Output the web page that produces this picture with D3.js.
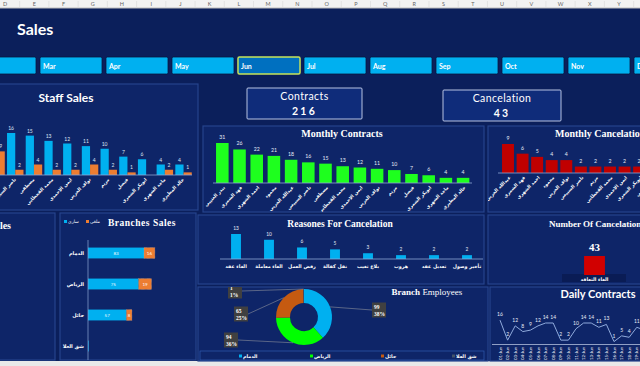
<!DOCTYPE html>
<html>
<head>
<meta charset="utf-8">
<script src="https://cdn.jsdelivr.net/npm/d3@7"></script>
<style>
html, body { margin: 0; padding: 0; background: #0b1f5b; overflow: hidden; }
svg { display: block; }
</style>
</head>
<body>
<svg id="dash" width="640" height="366"></svg>
<script>
// ---- data ----
const sheetColumns = ["D", "E", "F", "G", "H", "I", "J", "K", "L", "M", "N", "O", "P", "Q", "R", "S", "T", "U", "V", "W", "X", "Y"];
const months = ["Jan", "Feb", "Mar", "Apr", "May", "Jun", "Jul", "Aug", "Sep", "Oct", "Nov", "Dec"];
const selectedMonth = "Jun";

const staffNames = ["بندر العتيبي", "فهد الشمري", "احمد الشهري", "محمود", "عبدالله الحربي", "ناصر السبيعي", "مصطفى",
  "محمد القحطاني", "ايمن الاحمدي", "نواف الحربي", "مريم", "فيصل", "ابوبكر الشمري", "ماجد الشهري", "خالد المطيري"];
const staffContracts = [31, 26, 22, 21, 18, 16, 15, 13, 12, 11, 10, 7, 6, 4, 4];
const staffCancels = [5, 4, 3, 2, 9, 2, 4, 2, 2, 4, 2, 1, 0, 2, 1];

const cancelNames = ["عبدالله الحربي", "فهد الشمري", "احمد الشهري", "محمود", "نواف الحربي", "ناصر السبيعي", "مريم",
  "محمد القحطاني", "ايمن الاحمدي", "ابوبكر الشمري", "بندر العتيبي", "فيصل", "ماجد الشهري", "خالد المطيري"];
const cancelValues = [9, 6, 5, 4, 4, 2, 2, 2, 2, 2, 2, 1, 1, 1];

const reasons = ["الغاء عقد", "الغاء معاملة", "رفض العمل", "نقل كفالة", "بلاغ تغيب", "هروب", "تعديل عقد", "تأخير وصول"];
const reasonValues = [13, 10, 6, 5, 3, 2, 2, 2];

const branches = ["الدمام", "الرياض", "حائل", "شق العلا"];
const branchActive = [83, 75, 57, 1];
const branchCancelled = [16, 19, 8, 0];
const branchEmployees = [99, 94, 65, 1];

const cancelTypes = ["الغاء التعاقد"];

const dailyDates = ["01-Jun", "02-Jun", "03-Jun", "04-Jun", "05-Jun", "06-Jun", "07-Jun", "08-Jun", "09-Jun", "10-Jun",
  "11-Jun", "12-Jun", "13-Jun", "14-Jun", "15-Jun", "16-Jun", "17-Jun", "18-Jun", "19-Jun", "20-Jun", "21-Jun", "22-Jun", "23-Jun"];
const dailyContracts = [16, 2, 12, 8, 9, 12, 14, 14, 2, 2, 10, 14, 14, 11, 13, 1, 5, 4, 11, 9, 14, 8, 11];

// ---- styles ----
const sans = "Lato, 'Open Sans', sans-serif";
const serif = "'Liberation Serif', 'DejaVu Serif', serif";
const arabic = "'DejaVu Sans', sans-serif";
const blue = "#00b0f0", orange = "#ed7d31", green = "#1eff1e", red = "#c00000";

const svg = d3.select("#dash");
const defs = svg.append("defs");

function panel(id, x, y, w, h) {
  defs.append("clipPath").attr("id", id).append("rect").attr("x", x).attr("y", y).attr("width", w).attr("height", h);
  svg.append("rect").attr("x", x).attr("y", y).attr("width", w).attr("height", h)
    .attr("fill", "#0e2568").attr("stroke", "#25438c").attr("stroke-width", 1.2);
  return svg.append("g").attr("clip-path", `url(#${id})`);
}

function title(g, text, x, y, size, family, anchor = "middle") {
  return g.append("text").attr("x", x).attr("y", y).attr("text-anchor", anchor)
    .attr("font-family", family).attr("font-weight", "bold").attr("font-size", size)
    .attr("fill", "white").text(text);
}

// ---- excel column header ----
svg.append("rect").attr("width", 640).attr("height", 8).attr("fill", "#f2f2f2");
svg.append("line").attr("x1", 0).attr("x2", 640).attr("y1", 8).attr("y2", 8).attr("stroke", "#bdbdbd");
const colX = d3.scalePoint().domain(sheetColumns).range([5, 619]);
svg.append("g").selectAll("text").data(sheetColumns).join("text")
  .attr("x", d => colX(d)).attr("y", 6).attr("text-anchor", "middle")
  .attr("font-family", sans).attr("font-size", 5.5).attr("fill", "#666").text(d => d);
svg.append("g").selectAll("line").data(sheetColumns).join("line")
  .attr("x1", d => colX(d) + colX.step() / 2).attr("x2", d => colX(d) + colX.step() / 2)
  .attr("y1", 1).attr("y2", 8).attr("stroke", "#d6d6d6").attr("stroke-width", 0.6);
svg.append("rect").attr("y", 361).attr("width", 640).attr("height", 5).attr("fill", "#e9e9e9");

// ---- title + month slicer ----
svg.append("text").attr("x", 17).attr("y", 35).attr("font-family", sans).attr("font-weight", "bold")
  .attr("font-size", 16).attr("fill", "white").text("Sales");

const monthX = d3.scaleBand().domain(months).range([-94, 698]).paddingInner(0.06).paddingOuter(0.03);
const slicer = svg.append("g").selectAll("g").data(months).join("g")
  .attr("transform", d => `translate(${monthX(d)},57)`);
slicer.append("rect").attr("width", monthX.bandwidth()).attr("height", 17).attr("rx", 1.5)
  .attr("fill", d => d === selectedMonth ? "#0070c0" : blue)
  .attr("stroke", d => d === selectedMonth ? "#c6e35a" : "#09173f")
  .attr("stroke-width", d => d === selectedMonth ? 1.5 : 0.8);
slicer.append("text").attr("x", 3).attr("y", 12).attr("font-family", sans).attr("font-weight", "bold")
  .attr("font-size", 7).attr("fill", "white").text(d => d);

// ---- KPI boxes ----
const totalContracts = d3.sum(staffContracts);
const totalCancels = d3.sum(cancelValues);
[["Contracts", totalContracts, 247, 88, 115], ["Cancelation", totalCancels, 443, 90, 118]].forEach(([label, value, x, y, w]) => {
  svg.append("rect").attr("x", x).attr("y", y).attr("width", w).attr("height", 31)
    .attr("fill", "#0f2c7a").attr("stroke", "#c9d4ee").attr("stroke-width", 0.9).attr("rx", 1);
  svg.append("text").attr("x", x + w / 2).attr("y", y + 12).attr("text-anchor", "middle")
    .attr("font-family", sans).attr("font-size", 10.5).attr("letter-spacing", 0.4).attr("fill", "white").text(label);
  svg.append("text").attr("x", x + w / 2).attr("y", y + 27).attr("text-anchor", "middle")
    .attr("font-family", sans).attr("font-weight", "bold").attr("font-size", 10.5).attr("letter-spacing", 2.2)
    .attr("fill", "white").text(value);
});

// ---- Staff Sales ----
{
  const g = panel("clipStaff", -5, 84, 203, 126);
  title(g, "Staff Sales", 66, 102, 12, sans);
  const rows = staffNames.map((name, i) => ({ name, contracts: staffContracts[i], cancels: staffCancels[i] }));
  const x = d3.scaleBand().domain(staffNames).range([-87.6, 192.9]).paddingInner(0.12).paddingOuter(0.06);
  const sub = d3.scaleBand().domain(["contracts", "cancels"]).range([0, x.bandwidth()]);
  const y = d3.scaleLinear().domain([0, 16]).range([175, 133]);
  const colors = { contracts: blue, cancels: orange };
  const bars = rows.flatMap(r => ["contracts", "cancels"].map(k => ({ name: r.name, key: k, value: r[k] })));
  g.append("g").selectAll("rect").data(bars.filter(d => d.value > 0)).join("rect")
    .attr("x", d => x(d.name) + sub(d.key)).attr("width", sub.bandwidth())
    .attr("y", d => y(d.value)).attr("height", d => y(0) - y(d.value)).attr("fill", d => colors[d.key]);
  g.append("g").selectAll("text").data(bars.filter(d => d.value > 0)).join("text")
    .attr("x", d => x(d.name) + sub(d.key) + sub.bandwidth() / 2).attr("y", d => y(d.value) - 3)
    .attr("text-anchor", "middle").attr("font-family", sans).attr("font-size", 5).attr("fill", "#dfe6f5")
    .text(d => d.value);
  g.append("line").attr("x1", -5).attr("x2", 192).attr("y1", y(0)).attr("y2", y(0))
    .attr("stroke", "#8ea6d6").attr("stroke-width", 0.8);
  g.append("g").selectAll("text").data(staffNames).join("text")
    .attr("transform", d => `translate(${x(d) + x.bandwidth() / 2},${y(0) + 4}) rotate(-45)`)
    .attr("text-anchor", "end").attr("dominant-baseline", "middle").attr("font-family", arabic)
    .attr("font-weight", "bold").attr("font-size", 4.6).attr("fill", "white").text(d => d);
}

// ---- Monthly Contracts ----
{
  const g = panel("clipMonthly", 203, 126, 281, 86);
  title(g, "Monthly Contracts", 342, 137, 10, serif);
  const x = d3.scaleBand().domain(staffNames).range([211.4, 474]).paddingInner(0.27).paddingOuter(0.27);
  const y = d3.scaleLinear().domain([0, 31]).range([183, 143]);
  g.append("g").selectAll("rect").data(staffContracts).join("rect")
    .attr("x", (d, i) => x(staffNames[i])).attr("width", x.bandwidth())
    .attr("y", d => y(d)).attr("height", d => y(0) - y(d)).attr("fill", green);
  g.append("g").selectAll("text").data(staffContracts).join("text")
    .attr("x", (d, i) => x(staffNames[i]) + x.bandwidth() / 2).attr("y", d => y(d) - 4)
    .attr("text-anchor", "middle").attr("font-family", sans).attr("font-size", 5.2).attr("fill", "#e6ecf7").text(d => d);
  g.append("line").attr("x1", 213).attr("x2", 472).attr("y1", y(0)).attr("y2", y(0))
    .attr("stroke", "#8ea6d6").attr("stroke-width", 0.8);
  g.append("g").selectAll("text").data(staffNames).join("text")
    .attr("transform", d => `translate(${x(d) + x.bandwidth() / 2 + 2},${y(0) + 4}) rotate(-45)`)
    .attr("text-anchor", "end").attr("dominant-baseline", "middle").attr("font-family", arabic)
    .attr("font-weight", "bold").attr("font-size", 4.6).attr("fill", "white").text(d => d);
}

// ---- Monthly Cancelation ----
{
  const g = panel("clipCancel", 488, 126, 160, 86);
  title(g, "Monthly Cancelation", 555, 137, 10, serif, "start");
  const x = d3.scaleBand().domain(cancelNames).range([499.4, 706]).paddingInner(0.18).paddingOuter(0.18);
  const y = d3.scaleLinear().domain([0, 9]).range([173, 144]);
  g.append("g").selectAll("rect").data(cancelValues).join("rect")
    .attr("x", (d, i) => x(cancelNames[i])).attr("width", x.bandwidth())
    .attr("y", d => y(d)).attr("height", d => y(0) - y(d)).attr("fill", red);
  g.append("g").selectAll("text").data(cancelValues).join("text")
    .attr("x", (d, i) => x(cancelNames[i]) + x.bandwidth() / 2).attr("y", d => y(d) - 4)
    .attr("text-anchor", "middle").attr("font-family", sans).attr("font-size", 5.2).attr("fill", "#e6ecf7").text(d => d);
  g.append("line").attr("x1", 498).attr("x2", 640).attr("y1", y(0)).attr("y2", y(0))
    .attr("stroke", "#8ea6d6").attr("stroke-width", 0.8);
  g.append("g").selectAll("text").data(cancelNames).join("text")
    .attr("transform", d => `translate(${x(d) + x.bandwidth() / 2 + 2},${y(0) + 4}) rotate(-45)`)
    .attr("text-anchor", "end").attr("dominant-baseline", "middle").attr("font-family", arabic)
    .attr("font-weight", "bold").attr("font-size", 4.6).attr("fill", "white").text(d => d);
}

// ---- partial panel on the left ----
{
  const g = panel("clipLeft", -5, 213, 60, 147);
  title(g, "Sales", 11, 229, 10, serif, "end");
}

// ---- Branches Sales ----
{
  const g = panel("clipBranch", 60, 213, 136, 147);
  title(g, "Branches Sales", 142, 226, 9.5, serif).attr("letter-spacing", 0.5);
  // legend
  const legend = [["ساري", blue], ["ملغي", orange]];
  const lx = d3.scalePoint().domain(legend.map(d => d[0])).range([64, 86]);
  const li = g.append("g").selectAll("g").data(legend).join("g").attr("transform", d => `translate(${lx(d[0])},223)`);
  li.append("rect").attr("y", -3).attr("width", 3).attr("height", 3).attr("fill", d => d[1]);
  li.append("text").attr("x", 4).attr("y", 0).attr("font-family", arabic).attr("font-size", 4.5)
    .attr("fill", "white").text(d => d[0]);

  const y = d3.scaleBand().domain(branches).range([237.5, 361.5]).paddingInner(0.65).paddingOuter(0.325);
  const x = d3.scaleLinear().domain([0, 100]).range([88, 155.5]);
  const rows = branches.map((b, i) => ({ b, active: branchActive[i], cancelled: branchCancelled[i] }));
  const segs = rows.flatMap(r => [
    { b: r.b, x0: 0, x1: r.active, v: r.active, c: blue },
    { b: r.b, x0: r.active, x1: r.active + r.cancelled, v: r.cancelled, c: orange }
  ]).filter(s => s.v > 0);
  g.append("g").selectAll("rect").data(segs).join("rect")
    .attr("x", d => x(d.x0)).attr("width", d => x(d.x1) - x(d.x0))
    .attr("y", d => y(d.b)).attr("height", y.bandwidth()).attr("fill", d => d.c)
    .attr("stroke", d => d.c === orange ? "#ffd0a8" : "none").attr("stroke-width", 0.4)
    .attr("stroke-dasharray", "0.6,0.6");
  g.append("g").selectAll("text").data(segs.filter(s => s.v > 1)).join("text")
    .attr("x", d => (x(d.x0) + x(d.x1)) / 2).attr("y", d => y(d.b) + y.bandwidth() / 2 + 1.5)
    .attr("text-anchor", "middle").attr("font-family", sans).attr("font-size", 4.5).attr("fill", "white").text(d => d.v);
  g.append("line").attr("x1", x(0)).attr("x2", x(0)).attr("y1", 240).attr("y2", 360)
    .attr("stroke", "#8ea6d6").attr("stroke-width", 0.7);
  g.append("g").selectAll("text").data(branches).join("text")
    .attr("x", 84).attr("y", d => y(d) + y.bandwidth() / 2 + 1.5).attr("text-anchor", "end")
    .attr("font-family", arabic).attr("font-weight", "bold").attr("font-size", 5).attr("fill", "white").text(d => d);
}

// ---- Reasones For Cancelation ----
{
  const g = panel("clipReason", 198, 215, 286, 69);
  title(g, "Reasones For Cancelation", 340, 227, 9.5, serif);
  const x = d3.scaleBand().domain(reasons).range([219.5, 483.5]).paddingInner(0.7).paddingOuter(0.35);
  const y = d3.scaleLinear().domain([0, 13]).range([259, 234]);
  g.append("g").selectAll("rect").data(reasonValues).join("rect")
    .attr("x", (d, i) => x(reasons[i])).attr("width", x.bandwidth())
    .attr("y", d => y(d)).attr("height", d => y(0) - y(d)).attr("fill", blue);
  g.append("g").selectAll("text").data(reasonValues).join("text")
    .attr("x", (d, i) => x(reasons[i]) + x.bandwidth() / 2).attr("y", d => y(d) - 4)
    .attr("text-anchor", "middle").attr("font-family", sans).attr("font-size", 4.8).attr("fill", "#e6ecf7").text(d => d);
  g.append("line").attr("x1", 220).attr("x2", 483).attr("y1", y(0)).attr("y2", y(0))
    .attr("stroke", "#8ea6d6").attr("stroke-width", 0.8);
  g.append("g").selectAll("text").data(reasons).join("text")
    .attr("x", d => x(d) + x.bandwidth() / 2).attr("y", 268).attr("text-anchor", "middle")
    .attr("font-family", arabic).attr("font-weight", "bold").attr("font-size", 4.8).attr("fill", "white").text(d => d);
}

// ---- Branch Employees (donut) ----
{
  const g = panel("clipEmp", 198, 287, 290, 74);
  g.append("text").attr("x", 427).attr("y", 295).attr("text-anchor", "middle").attr("font-family", serif)
    .attr("font-size", 9).attr("fill", "white")
    .call(t => { t.append("tspan").attr("font-weight", "bold").text("Branch"); t.append("tspan").text(" Employees"); });
  const cx = 304, cy = 317;
  const colors = d3.scaleOrdinal().domain(branches).range([blue, "#00ff00", "#c55a11", "#44546a"]);
  const total = d3.sum(branchEmployees);
  const pie = d3.pie().sort(null).value(d => d.v);
  const arcs = pie(branches.map((b, i) => ({ b, v: branchEmployees[i] })));
  const arc = d3.arc().innerRadius(14).outerRadius(28);
  const dg = g.append("g").attr("transform", `translate(${cx},${cy})`);
  dg.selectAll("path").data(arcs).join("path").attr("d", arc).attr("fill", d => colors(d.data.b));
  // callout label layout (offset of each box from the donut centre)
  const calloutOffsets = [[75, -7], [-73, 23], [-63, -3], [-69, -26]];
  arcs.forEach((a, i) => {
    const [dx, dy] = calloutOffsets[i];
    const mid = (a.startAngle + a.endAngle) / 2;
    const ex = Math.sin(mid) * 28, ey = -Math.cos(mid) * 28;
    const bw = 14, bh = 15;
    const edgeX = dx > 0 ? dx - bw / 2 : dx + bw / 2;
    dg.append("line").attr("x1", ex).attr("y1", ey).attr("x2", edgeX).attr("y2", dy)
      .attr("stroke", "#a6a6a6").attr("stroke-width", 0.5);
    dg.append("rect").attr("x", dx - bw / 2).attr("y", dy - bh / 2).attr("width", bw).attr("height", bh).attr("fill", "#404040");
    const pct = Math.round(a.data.v / total * 100) || 1;
    dg.append("text").attr("x", dx - 5).attr("y", dy - 1.5).attr("font-family", serif).attr("font-weight", "bold")
      .attr("font-size", 5.5).attr("fill", "white").text(a.data.v);
    dg.append("text").attr("x", dx - 5).attr("y", dy + 5.5).attr("font-family", serif).attr("font-weight", "bold")
      .attr("font-size", 5.5).attr("fill", "white").text(pct + "%");
  });
  // legend
  g.append("rect").attr("x", 200).attr("y", 351).attr("width", 284).attr("height", 9)
    .attr("fill", "none").attr("stroke", "#2f5bb0").attr("stroke-width", 0.7);
  const lx = d3.scalePoint().domain(branches).range([239, 452]);
  const li = g.append("g").selectAll("g").data(branches).join("g").attr("transform", d => `translate(${lx(d)},357.5)`);
  li.append("rect").attr("y", -3).attr("width", 3).attr("height", 3).attr("fill", d => colors(d));
  li.append("text").attr("x", 4).attr("font-family", arabic).attr("font-weight", "bold").attr("font-size", 4.8)
    .attr("fill", "white").text(d => d);
}

// ---- Number Of Cancelation ----
{
  const g = panel("clipNum", 488, 215, 160, 69);
  title(g, "Number Of Cancelation", 549, 227, 9, serif, "start");
  const x = d3.scaleBand().domain(cancelTypes).range([562, 627]).paddingOuter(1.06);
  const y = d3.scaleLinear().domain([0, totalCancels]).range([275, 256]);
  g.append("rect").attr("x", 562).attr("y", 274).attr("width", 64).attr("height", 8).attr("fill", "#0a1c55");
  g.selectAll("rect.bar").data([totalCancels]).join("rect").attr("class", "bar")
    .attr("x", x(cancelTypes[0])).attr("width", x.bandwidth()).attr("y", d => y(d)).attr("height", d => y(0) - y(d))
    .attr("fill", "#d10000");
  g.append("text").attr("x", x(cancelTypes[0]) + x.bandwidth() / 2).attr("y", y(totalCancels) - 5)
    .attr("text-anchor", "middle").attr("font-family", serif).attr("font-weight", "bold").attr("font-size", 11)
    .attr("fill", "white").text(totalCancels);
  g.append("text").attr("x", x(cancelTypes[0]) + x.bandwidth() / 2).attr("y", 280.5).attr("text-anchor", "middle")
    .attr("font-family", arabic).attr("font-weight", "bold").attr("font-size", 4.8).attr("fill", "white").text(cancelTypes[0]);
}

// ---- Daily Contracts ----
{
  const g = panel("clipDaily", 490, 287, 158, 74);
  title(g, "Daily Contracts", 598, 298, 11, sans);
  const x = d3.scalePoint().domain(dailyDates).range([500, 500 + 7.6 * (dailyDates.length - 1)]);
  const y = d3.scaleLinear().domain([0, 14]).range([343, 323]);
  const line = d3.line().x((d, i) => x(dailyDates[i])).y(d => y(d));
  g.append("path").datum(dailyContracts).attr("d", line).attr("fill", "none")
    .attr("stroke", "#8faadc").attr("stroke-width", 1);
  g.append("g").selectAll("text").data(dailyContracts).join("text")
    .attr("x", (d, i) => x(dailyDates[i])).attr("y", d => y(d) - 4).attr("text-anchor", "middle")
    .attr("font-family", sans).attr("font-size", 5).attr("fill", "#e6ecf7").text(d => d);
  g.append("line").attr("x1", 492).attr("x2", 640).attr("y1", 344.5).attr("y2", 344.5)
    .attr("stroke", "#c9d4ee").attr("stroke-width", 0.7);
  g.append("g").selectAll("text.date").data(dailyDates).join("text").attr("class", "date")
    .attr("transform", d => `translate(${x(d) + 1.5},347) rotate(-90)`).attr("text-anchor", "end")
    .attr("font-family", sans).attr("font-size", 4.3).attr("fill", "white").text(d => d);
}
</script>
</body>
</html>
